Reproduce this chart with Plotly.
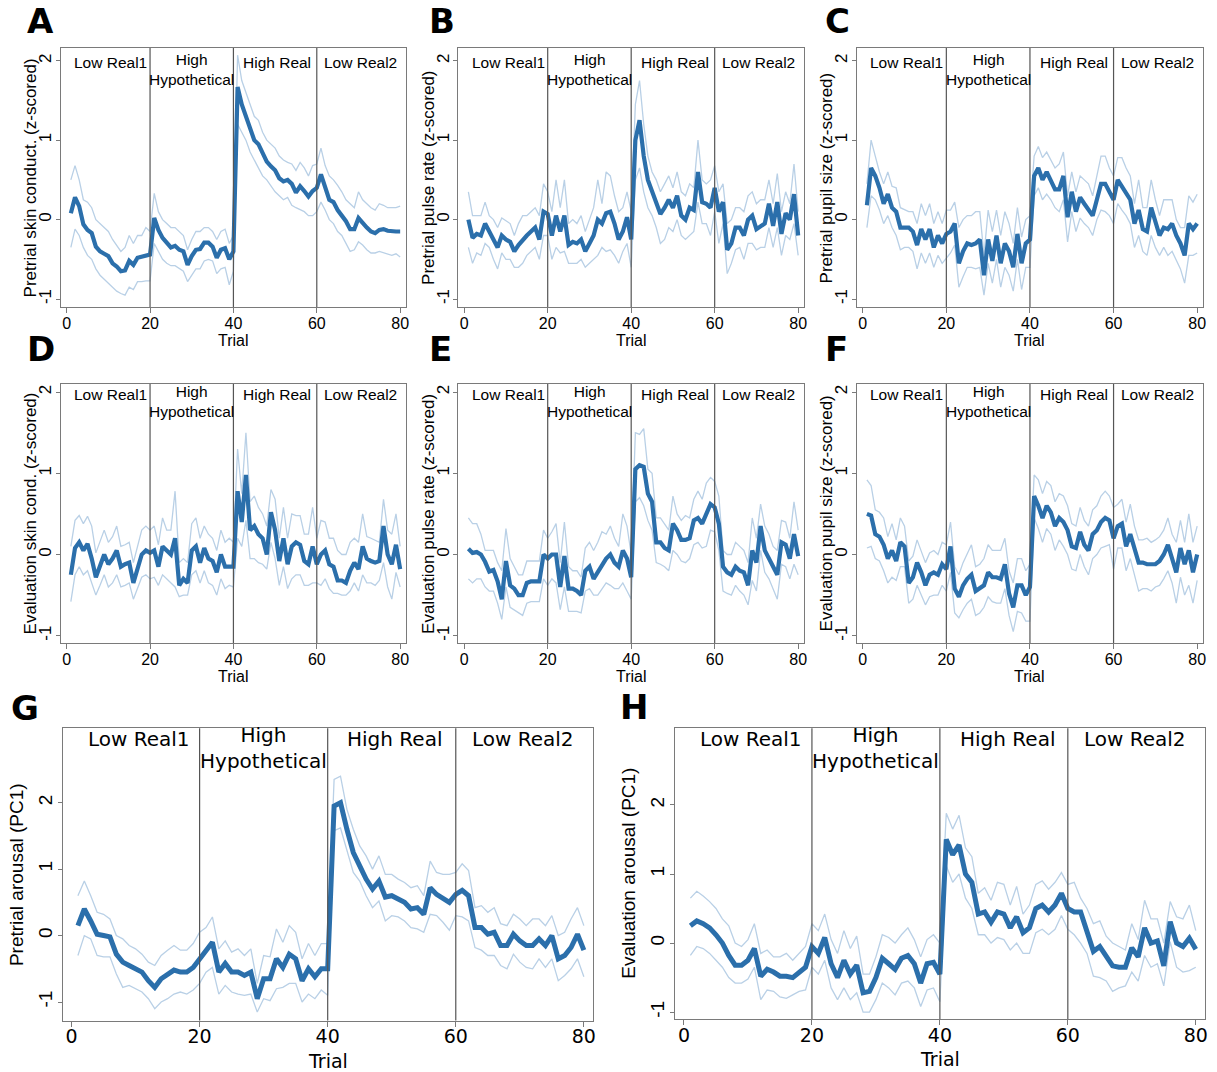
import plotly.graph_objects as go

W, H = 1217, 1072
TRIALS = list(range(1, 81))
X_TICKS = [0, 20, 40, 60, 80]
Y_TICKS = [-1, 0, 1, 2]
BLOCK_EDGES = [20, 40, 60]
BLOCK_LABELS = ["Low Real1", "High<br>Hypothetical", "High Real", "Low Real2"]
BLOCK_CENTERS = [10.5, 30, 50.5, 70.5]

MEAN_A = [0.08, 0.28, 0.17, -0.06, -0.13, -0.17, -0.34, -0.40, -0.43, -0.46, -0.55, -0.59, -0.65, -0.64, -0.52, -0.57, -0.48, -0.47, -0.45, -0.44,
          0.02, -0.13, -0.23, -0.30, -0.35, -0.33, -0.38, -0.40, -0.57, -0.46, -0.38, -0.37, -0.29, -0.29, -0.34, -0.48, -0.38, -0.36, -0.50, -0.40,
          1.67, 1.45, 1.30, 1.12, 1.00, 0.95, 0.85, 0.73, 0.67, 0.62, 0.52, 0.48, 0.50, 0.45, 0.34, 0.42, 0.36, 0.29, 0.36, 0.40,
          0.57, 0.42, 0.25, 0.22, 0.12, 0.05, -0.02, -0.12, -0.12, 0.02, -0.05, -0.10, -0.15, -0.17, -0.13, -0.12, -0.14, -0.15, -0.15, -0.15]
UP_A = [0.50, 0.68, 0.50, 0.25, 0.22, 0.15, 0.00, -0.05, -0.10, -0.15, -0.25, -0.32, -0.40, -0.35, -0.20, -0.30, -0.20, -0.20, -0.10, -0.15,
        0.33, 0.10, 0.00, -0.05, -0.10, -0.10, -0.15, -0.20, -0.38, -0.25, -0.15, -0.15, -0.10, -0.10, -0.15, -0.25, -0.15, -0.12, -0.30, -0.20,
        2.07, 1.75, 1.60, 1.45, 1.30, 1.25, 1.10, 1.00, 0.95, 0.90, 0.80, 0.75, 0.72, 0.70, 0.62, 0.72, 0.65, 0.55, 0.68, 0.70,
        0.90, 0.68, 0.55, 0.50, 0.43, 0.35, 0.25, 0.20, 0.15, 0.35, 0.25, 0.20, 0.15, 0.12, 0.20, 0.18, 0.15, 0.15, 0.15, 0.17]
LO_A = [-0.35, -0.12, -0.20, -0.35, -0.45, -0.50, -0.62, -0.70, -0.75, -0.80, -0.85, -0.90, -0.93, -0.95, -0.85, -0.88, -0.78, -0.78, -0.77, -0.77,
        -0.30, -0.40, -0.50, -0.55, -0.58, -0.58, -0.62, -0.65, -0.78, -0.70, -0.62, -0.62, -0.52, -0.50, -0.52, -0.68, -0.62, -0.60, -0.82, -0.65,
        1.20, 1.10, 1.00, 0.85, 0.75, 0.65, 0.55, 0.50, 0.42, 0.35, 0.30, 0.25, 0.28, 0.18, 0.15, 0.12, 0.10, 0.05, 0.05, 0.10,
        0.22, 0.12, 0.00, -0.05, -0.15, -0.20, -0.30, -0.40, -0.38, -0.28, -0.32, -0.38, -0.42, -0.42, -0.40, -0.42, -0.43, -0.45, -0.43, -0.47]

MEAN_B = [0.00, -0.23, -0.18, -0.20, -0.05, -0.15, -0.25, -0.35, -0.20, -0.25, -0.28, -0.40, -0.32, -0.25, -0.20, -0.15, -0.10, -0.25, 0.10, 0.07,
          -0.20, 0.05, -0.15, 0.05, -0.32, -0.28, -0.30, -0.25, -0.40, -0.30, -0.20, 0.00, -0.05, 0.08, 0.10, -0.05, -0.25, -0.15, 0.03, -0.25,
          1.00, 1.25, 0.80, 0.50, 0.35, 0.20, 0.07, 0.15, 0.25, 0.15, 0.30, 0.05, 0.00, 0.15, 0.12, 0.60, 0.22, 0.20, 0.15, 0.40,
          0.10, 0.22, -0.38, -0.30, -0.10, -0.10, -0.20, 0.00, 0.05, -0.12, -0.08, -0.05, 0.20, -0.08, 0.22, -0.18, 0.08, 0.00, 0.32, -0.20]
UP_B = [0.35, 0.05, 0.05, 0.05, 0.22, 0.05, 0.00, -0.10, 0.02, -0.02, -0.05, -0.20, -0.05, 0.05, 0.05, 0.10, 0.15, 0.05, 0.45, 0.35,
        0.10, 0.50, 0.15, 0.50, -0.05, 0.00, -0.05, 0.05, -0.15, 0.00, 0.15, 0.50, 0.20, 0.60, 0.55, 0.30, 0.10, 0.15, 0.35, 0.10,
        1.45, 1.75, 1.20, 0.80, 0.60, 0.50, 0.35, 0.45, 0.55, 0.40, 0.60, 0.35, 0.30, 0.45, 0.40, 1.00, 0.50, 0.45, 0.50, 0.68,
        0.35, 0.45, -0.05, 0.00, 0.15, 0.15, 0.10, 0.30, 0.35, 0.20, 0.25, 0.25, 0.50, 0.20, 0.58, 0.10, 0.35, 0.20, 0.70, 0.10]
LO_B = [-0.35, -0.55, -0.42, -0.45, -0.30, -0.35, -0.50, -0.62, -0.42, -0.50, -0.50, -0.60, -0.60, -0.55, -0.45, -0.40, -0.35, -0.50, -0.20, -0.20,
        -0.50, -0.35, -0.42, -0.40, -0.55, -0.55, -0.55, -0.50, -0.60, -0.55, -0.50, -0.45, -0.35, -0.40, -0.38, -0.45, -0.55, -0.40, -0.30, -0.60,
        0.50, 0.65, 0.35, 0.15, 0.05, -0.10, -0.30, -0.25, -0.10, -0.15, 0.00, -0.20, -0.25, -0.20, -0.15, 0.22, -0.05, -0.05, -0.20, 0.10,
        -0.30, -0.05, -0.68, -0.55, -0.38, -0.35, -0.50, -0.30, -0.30, -0.38, -0.35, -0.35, -0.10, -0.35, -0.10, -0.45, -0.20, -0.25, -0.05, -0.45]

MEAN_C = [0.18, 0.65, 0.55, 0.40, 0.20, 0.32, 0.15, 0.10, -0.10, -0.10, -0.10, -0.15, -0.32, -0.12, -0.25, -0.12, -0.35, -0.20, -0.30, -0.18,
          -0.15, -0.05, -0.55, -0.40, -0.30, -0.32, -0.30, -0.25, -0.70, -0.25, -0.52, -0.20, -0.55, -0.30, -0.40, -0.60, -0.18, -0.55, -0.30, -0.25,
          0.55, 0.65, 0.50, 0.60, 0.50, 0.38, 0.38, 0.55, 0.03, 0.35, 0.10, 0.28, 0.20, 0.12, 0.05, 0.25, 0.45, 0.45, 0.35, 0.25,
          0.50, 0.42, 0.35, 0.25, -0.05, 0.12, -0.12, -0.15, 0.15, -0.05, -0.20, -0.10, -0.12, -0.05, -0.20, -0.30, -0.45, -0.05, -0.12, -0.05]
UP_C = [0.45, 1.00, 0.80, 0.60, 0.45, 0.60, 0.42, 0.40, 0.15, 0.12, 0.10, 0.10, -0.05, 0.20, 0.05, 0.20, -0.05, 0.10, -0.05, 0.12,
        0.12, 0.22, -0.10, 0.00, 0.05, 0.05, 0.10, 0.10, -0.45, 0.12, -0.15, 0.12, -0.20, 0.10, -0.05, -0.30, 0.15, -0.22, 0.00, 0.05,
        0.80, 0.92, 0.78, 0.85, 0.75, 0.65, 0.70, 0.85, 0.30, 0.60, 0.35, 0.55, 0.50, 0.45, 0.30, 0.55, 0.80, 0.80, 0.65, 0.55,
        0.78, 0.78, 0.65, 0.55, 0.20, 0.50, 0.15, 0.15, 0.50, 0.25, 0.05, 0.25, 0.25, 0.25, 0.00, -0.10, -0.10, 0.30, 0.22, 0.32]
LO_C = [-0.10, 0.30, 0.25, 0.12, -0.05, 0.05, -0.10, -0.20, -0.38, -0.35, -0.35, -0.40, -0.62, -0.42, -0.55, -0.42, -0.60, -0.45, -0.55, -0.48,
        -0.42, -0.32, -0.85, -0.72, -0.60, -0.60, -0.62, -0.60, -0.95, -0.55, -0.80, -0.50, -0.85, -0.60, -0.70, -0.90, -0.50, -0.88, -0.60, -0.60,
        0.30, 0.40, 0.25, 0.32, 0.25, 0.15, 0.10, 0.25, -0.28, 0.10, -0.15, 0.02, -0.05, -0.10, -0.20, 0.00, 0.12, 0.10, 0.05, -0.05,
        0.20, 0.12, 0.05, -0.05, -0.35, -0.20, -0.40, -0.45, -0.20, -0.35, -0.45, -0.35, -0.45, -0.40, -0.50, -0.62, -0.80, -0.45, -0.45, -0.42]

MEAN_D = [-0.25, 0.08, 0.15, 0.05, 0.13, -0.05, -0.28, -0.12, 0.00, -0.12, -0.05, 0.05, -0.15, -0.12, -0.10, -0.35, -0.15, 0.00, 0.05, 0.02,
          0.05, -0.15, 0.10, 0.05, 0.00, 0.20, -0.38, -0.30, -0.35, 0.05, 0.10, -0.10, 0.08, -0.05, -0.08, -0.22, 0.00, -0.15, -0.15, -0.15,
          0.78, 0.40, 0.98, 0.30, 0.35, 0.25, 0.20, 0.00, 0.52, 0.30, -0.08, 0.20, -0.12, 0.10, 0.15, 0.12, -0.08, -0.12, 0.10, -0.12,
          0.00, 0.05, -0.12, -0.15, -0.32, -0.32, -0.35, -0.20, -0.10, -0.18, 0.10, -0.05, -0.08, -0.10, -0.08, 0.35, 0.00, -0.12, 0.12, -0.18]
UP_D = [0.10, 0.42, 0.48, 0.38, 0.47, 0.35, 0.02, 0.15, 0.30, 0.15, 0.22, 0.35, 0.10, 0.12, 0.15, -0.10, 0.10, 0.30, 0.35, 0.30,
        0.35, 0.12, 0.45, 0.30, 0.30, 0.78, -0.10, -0.05, -0.10, 0.38, 0.45, 0.20, 0.35, 0.25, 0.20, 0.05, 0.30, 0.15, 0.20, 0.15,
        1.30, 0.75, 1.50, 0.65, 0.72, 0.58, 0.50, 0.35, 0.80, 0.68, 0.20, 0.58, 0.20, 0.50, 0.48, 0.48, 0.25, 0.25, 0.58, 0.20,
        0.42, 0.40, 0.20, 0.20, 0.05, 0.00, 0.00, 0.15, 0.20, 0.15, 0.50, 0.22, 0.20, 0.18, 0.15, 0.68, 0.30, 0.25, 0.50, 0.10]
LO_D = [-0.58, -0.25, -0.15, -0.25, -0.20, -0.35, -0.50, -0.38, -0.25, -0.40, -0.35, -0.25, -0.40, -0.38, -0.35, -0.55, -0.42, -0.28, -0.25, -0.30,
        -0.28, -0.38, -0.25, -0.30, -0.35, -0.40, -0.52, -0.50, -0.50, -0.25, -0.20, -0.35, -0.20, -0.35, -0.38, -0.50, -0.30, -0.42, -0.38, -0.40,
        0.20, 0.10, 0.42, -0.05, -0.05, -0.10, -0.12, -0.18, 0.15, -0.05, -0.38, -0.15, -0.42, -0.30, -0.25, -0.25, -0.38, -0.38, -0.35, -0.35,
        -0.38, -0.30, -0.42, -0.48, -0.48, -0.50, -0.50, -0.45, -0.35, -0.45, -0.25, -0.35, -0.35, -0.38, -0.32, -0.10, -0.40, -0.55, -0.22, -0.40]

MEAN_E = [0.07, 0.02, 0.03, 0.00, -0.09, -0.21, -0.19, -0.33, -0.55, -0.08, -0.38, -0.42, -0.50, -0.50, -0.35, -0.33, -0.33, -0.33, 0.00, -0.05,
          0.00, 0.00, -0.40, -0.02, -0.42, -0.42, -0.45, -0.50, -0.20, -0.15, -0.30, -0.22, -0.12, -0.05, 0.00, -0.10, -0.15, 0.05, -0.05, -0.28,
          1.05, 1.10, 1.08, 0.75, 0.65, 0.15, 0.15, 0.08, 0.05, 0.38, 0.30, 0.18, 0.18, 0.20, 0.42, 0.45, 0.38, 0.50, 0.62, 0.58,
          0.38, -0.15, -0.22, -0.25, -0.15, -0.20, -0.22, -0.38, 0.05, -0.10, 0.35, 0.05, -0.05, -0.15, -0.25, 0.15, 0.12, -0.05, 0.25, -0.02]
UP_E = [0.45, 0.38, 0.38, 0.25, 0.05, 0.05, 0.05, -0.10, -0.20, 0.32, -0.05, -0.15, -0.25, -0.25, -0.08, -0.08, -0.08, -0.08, 0.30, 0.20,
        0.28, 0.38, -0.10, 0.40, -0.15, -0.20, -0.20, -0.28, 0.08, 0.15, 0.05, 0.15, 0.28, 0.25, 0.35, 0.20, 0.10, 0.50, 0.35, 0.00,
        1.50, 1.48, 1.55, 1.05, 1.00, 0.45, 0.45, 0.38, 0.30, 0.72, 0.50, 0.42, 0.48, 0.45, 0.68, 0.78, 0.68, 0.88, 0.95, 0.90,
        0.72, 0.05, 0.00, 0.00, 0.15, 0.10, 0.05, -0.10, 0.45, 0.20, 0.62, 0.35, 0.25, 0.10, 0.05, 0.42, 0.40, 0.20, 0.65, 0.30]
LO_E = [-0.30, -0.35, -0.30, -0.30, -0.40, -0.45, -0.45, -0.60, -0.80, -0.40, -0.65, -0.68, -0.72, -0.75, -0.60, -0.58, -0.58, -0.58, -0.30, -0.38,
        -0.30, -0.35, -0.68, -0.40, -0.70, -0.70, -0.70, -0.72, -0.45, -0.42, -0.50, -0.50, -0.42, -0.35, -0.38, -0.42, -0.42, -0.35, -0.45, -0.55,
        0.65, 0.70, 0.60, 0.42, 0.30, -0.10, -0.12, -0.15, -0.20, 0.05, 0.00, -0.08, -0.10, -0.05, 0.12, 0.15, 0.08, 0.10, 0.30, 0.28,
        0.05, -0.45, -0.48, -0.50, -0.38, -0.45, -0.50, -0.62, -0.32, -0.45, 0.05, -0.22, -0.30, -0.42, -0.55, -0.12, -0.15, -0.30, -0.12, -0.25]

MEAN_F = [0.50, 0.48, 0.25, 0.22, 0.12, -0.05, 0.05, -0.08, 0.15, 0.10, -0.35, -0.28, -0.10, -0.22, -0.38, -0.25, -0.22, -0.25, -0.12, -0.18,
          0.10, -0.42, -0.52, -0.38, -0.30, -0.25, -0.45, -0.42, -0.38, -0.22, -0.28, -0.28, -0.30, -0.12, -0.48, -0.65, -0.38, -0.38, -0.50, -0.40,
          0.72, 0.60, 0.45, 0.60, 0.52, 0.35, 0.45, 0.40, 0.30, 0.10, 0.08, 0.28, 0.12, 0.05, 0.25, 0.30, 0.40, 0.45, 0.42, 0.20,
          0.35, 0.38, 0.10, 0.25, 0.05, -0.10, -0.10, -0.12, -0.12, -0.12, -0.08, 0.00, 0.12, -0.05, -0.22, 0.08, -0.12, 0.05, -0.22, 0.00]
UP_F = [0.92, 0.85, 0.55, 0.52, 0.45, 0.22, 0.38, 0.18, 0.45, 0.35, -0.08, -0.02, 0.18, 0.05, -0.10, 0.02, 0.05, 0.00, 0.15, 0.12,
        0.40, -0.15, -0.25, -0.10, 0.00, 0.12, -0.15, -0.12, -0.05, 0.12, 0.05, 0.05, 0.05, 0.20, -0.20, -0.35, -0.05, -0.05, -0.20, -0.12,
        0.98, 0.92, 0.75, 0.90, 0.85, 0.65, 0.75, 0.72, 0.60, 0.38, 0.35, 0.58, 0.42, 0.35, 0.55, 0.60, 0.72, 0.78, 0.72, 0.58,
        0.62, 0.68, 0.40, 0.62, 0.35, 0.18, 0.18, 0.20, 0.15, 0.18, 0.22, 0.30, 0.45, 0.25, 0.15, 0.42, 0.15, 0.50, 0.15, 0.35]
LO_F = [0.08, 0.10, -0.05, -0.08, -0.20, -0.35, -0.28, -0.32, -0.15, -0.15, -0.60, -0.55, -0.38, -0.50, -0.62, -0.52, -0.50, -0.50, -0.38, -0.45,
        -0.22, -0.72, -0.78, -0.68, -0.60, -0.55, -0.75, -0.72, -0.65, -0.52, -0.58, -0.60, -0.60, -0.42, -0.75, -0.95, -0.70, -0.72, -0.82, -0.82,
        0.45, 0.32, 0.15, 0.32, 0.25, 0.05, 0.18, 0.10, 0.00, -0.18, -0.20, 0.00, -0.15, -0.25, -0.05, 0.00, 0.08, 0.10, 0.12, -0.18,
        0.08, 0.08, -0.20, -0.05, -0.25, -0.45, -0.42, -0.42, -0.45, -0.40, -0.38, -0.30, -0.20, -0.35, -0.60, -0.28, -0.50, -0.38, -0.60, -0.32]

MEAN_G = [0.15, 0.40, 0.22, 0.02, 0.00, -0.02, -0.28, -0.40, -0.45, -0.50, -0.55, -0.68, -0.78, -0.65, -0.58, -0.52, -0.55, -0.55, -0.48, -0.35,
          -0.20, -0.10, -0.55, -0.42, -0.55, -0.55, -0.60, -0.55, -0.95, -0.65, -0.65, -0.35, -0.48, -0.28, -0.35, -0.68, -0.50, -0.62, -0.50, -0.50,
          1.95, 2.00, 1.60, 1.25, 1.05, 0.85, 0.70, 0.82, 0.58, 0.60, 0.55, 0.50, 0.40, 0.42, 0.32, 0.72, 0.62, 0.55, 0.50, 0.62,
          0.68, 0.60, 0.12, 0.12, 0.02, 0.05, -0.15, -0.15, 0.02, -0.08, -0.15, -0.15, -0.05, -0.15, 0.00, -0.35, -0.30, -0.18, 0.02, -0.22]
UP_G = [0.60, 0.82, 0.60, 0.35, 0.32, 0.25, 0.00, -0.05, -0.15, -0.20, -0.28, -0.40, -0.45, -0.30, -0.22, -0.15, -0.22, -0.22, -0.12, 0.05,
        0.12, 0.28, -0.20, -0.08, -0.25, -0.20, -0.30, -0.20, -0.72, -0.30, -0.32, 0.10, -0.10, 0.15, 0.05, -0.35, -0.12, -0.30, -0.12, -0.12,
        2.35, 2.40, 1.90, 1.60, 1.35, 1.20, 1.00, 1.20, 0.92, 0.92, 0.85, 0.80, 0.72, 0.75, 0.60, 1.12, 0.95, 0.92, 0.92, 0.95,
        1.08, 0.98, 0.42, 0.45, 0.35, 0.42, 0.18, 0.15, 0.32, 0.25, 0.15, 0.25, 0.25, 0.15, 0.30, 0.00, 0.05, 0.25, 0.42, 0.15]
LO_G = [-0.30, 0.00, -0.05, -0.30, -0.32, -0.32, -0.58, -0.78, -0.75, -0.80, -0.85, -0.95, -1.10, -1.00, -0.95, -0.88, -0.85, -0.88, -0.82, -0.72,
        -0.55, -0.48, -0.88, -0.75, -0.85, -0.88, -0.90, -0.88, -1.15, -0.95, -0.98, -0.80, -0.78, -0.72, -0.72, -1.00, -0.88, -0.95, -0.82, -0.90,
        1.58, 1.62, 1.30, 0.95, 0.82, 0.60, 0.42, 0.52, 0.22, 0.30, 0.28, 0.22, 0.12, 0.10, 0.05, 0.32, 0.30, 0.20, 0.08, 0.30,
        0.28, 0.22, -0.18, -0.22, -0.30, -0.30, -0.45, -0.50, -0.28, -0.40, -0.48, -0.50, -0.35, -0.48, -0.35, -0.68, -0.60, -0.50, -0.35, -0.62]

MEAN_H = [0.25, 0.32, 0.28, 0.22, 0.12, 0.00, -0.18, -0.32, -0.32, -0.25, -0.08, -0.48, -0.38, -0.42, -0.48, -0.48, -0.50, -0.42, -0.35, -0.05,
          -0.15, 0.08, -0.30, -0.50, -0.25, -0.45, -0.32, -0.72, -0.70, -0.50, -0.22, -0.30, -0.38, -0.22, -0.18, -0.30, -0.58, -0.30, -0.28, -0.45,
          1.50, 1.28, 1.42, 1.00, 0.88, 0.42, 0.45, 0.30, 0.45, 0.42, 0.22, 0.38, 0.15, 0.22, 0.50, 0.55, 0.45, 0.55, 0.72, 0.50,
          0.45, 0.45, 0.15, -0.12, -0.05, -0.20, -0.33, -0.35, -0.35, -0.07, -0.20, 0.22, 0.00, 0.03, -0.33, 0.31, 0.00, -0.05, 0.07, -0.09]
UP_H = [0.65, 0.75, 0.68, 0.60, 0.50, 0.35, 0.25, 0.00, -0.05, 0.05, 0.28, -0.15, -0.10, -0.20, -0.20, -0.15, -0.25, -0.15, -0.05, 0.28,
        0.18, 0.42, 0.05, -0.15, 0.18, -0.08, 0.10, -0.45, -0.45, -0.20, 0.12, 0.08, 0.00, 0.12, 0.22, 0.05, -0.20, 0.05, 0.12, 0.00,
        1.88, 1.65, 1.85, 1.38, 1.25, 0.72, 0.80, 0.62, 0.88, 0.85, 0.55, 0.82, 0.42, 0.55, 0.85, 0.90, 0.78, 0.88, 1.02, 0.85,
        0.88, 0.65, 0.50, 0.28, 0.32, 0.10, 0.00, -0.05, -0.10, 0.28, 0.05, 0.62, 0.35, 0.35, 0.00, 0.60, 0.38, 0.35, 0.55, 0.18]
LO_H = [-0.18, -0.05, -0.08, -0.15, -0.25, -0.35, -0.50, -0.58, -0.58, -0.52, -0.35, -0.82, -0.68, -0.70, -0.78, -0.80, -0.75, -0.70, -0.68, -0.35,
        -0.45, -0.25, -0.65, -0.82, -0.65, -0.82, -0.72, -1.00, -1.00, -0.82, -0.58, -0.65, -0.75, -0.58, -0.55, -0.65, -0.92, -0.68, -0.65, -0.85,
        1.12, 0.88, 1.00, 0.65, 0.50, 0.12, 0.12, 0.00, 0.08, 0.05, -0.10, 0.00, -0.15, -0.15, 0.15, 0.20, 0.12, 0.20, 0.40, 0.20,
        0.12, 0.00, -0.15, -0.48, -0.50, -0.55, -0.70, -0.65, -0.62, -0.42, -0.55, -0.18, -0.35, -0.30, -0.62, 0.02, -0.35, -0.42, -0.40, -0.35]

Y_TITLES = ["Pretrial skin conduct. (z-scored)", "Pretrial pulse rate (z-scored)", "Pretrial pupil size (z-scored)",
            "Evaluation skin cond. (z-scored)", "Evaluation pulse rate (z-scored)", "Evaluation pupil size (z-scored)",
            "Pretrial arousal (PC1)", "Evaluation arousal (PC1)"]
LETTERS = ["A", "B", "C", "D", "E", "F", "G", "H"]
X_TITLE = "Trial"

MEAN_COLOR = "#2b6fab"
CI_COLOR = "#b9d0e6"
FRAME = "#7a7a7a"
SEP = "#555555"

REG = "Liberation Sans, Arial"
WIDE = "DejaVu Sans, Verdana"

# layout geometry in pixels: (x0, x1, y0(top), y1(bottom))
small_rows = [(48, 307), (384, 643)]
small_cols = [(61, 407), (459.5, 806), (859, 1206)]
boxes = []
for (t, b) in small_rows:
    for (l, r) in small_cols:
        boxes.append((l, r, t, b))
boxes.append((62.7, 594.3, 728.3, 1020.6))
boxes.append((676.7, 1207.7, 728.3, 1019))

YRANGES = [[-1.10, 2.16]] * 3 + [[-1.09, 2.10]] * 3 + [[-1.28, 3.12], [-1.10, 3.11]]
XRANGE = [-1.4, 81.4]

panels = [(MEAN_A, UP_A, LO_A), (MEAN_B, UP_B, LO_B), (MEAN_C, UP_C, LO_C),
          (MEAN_D, UP_D, LO_D), (MEAN_E, UP_E, LO_E), (MEAN_F, UP_F, LO_F),
          (MEAN_G, UP_G, LO_G), (MEAN_H, UP_H, LO_H)]

fig = go.Figure()
layout = dict(width=W, height=H, margin=dict(l=0, r=0, t=0, b=0, pad=0),
              paper_bgcolor="white", plot_bgcolor="white", showlegend=False)
annotations = []
shapes = []

for i, (mean, up, lo) in enumerate(panels):
    n = i + 1
    big = i >= 6
    sfx = "" if n == 1 else str(n)
    xa, ya = "x" + sfx, "y" + sfx
    l, r, t, b = boxes[i]
    hfont = WIDE if big else REG
    hsize = 20 if big else 15.5
    tsize = 19 if big else 16
    vsize = 19 if big else 17
    for ci in (up, lo):
        fig.add_trace(go.Scatter(x=TRIALS, y=ci, xaxis=xa, yaxis=ya, mode="lines",
                                 line=dict(color=CI_COLOR, width=1.3), hoverinfo="skip"))
    fig.add_trace(go.Scatter(x=TRIALS, y=mean, xaxis=xa, yaxis=ya, mode="lines",
                             line=dict(color=MEAN_COLOR, width=5 if big else 4.2)))
    layout["xaxis" + sfx] = dict(domain=[l / W, r / W], range=XRANGE, anchor=ya,
                                 tickvals=X_TICKS, ticks="outside", ticklen=5, tickcolor=FRAME,
                                 ticklabelstandoff=-6 if big else -3,
                                 showline=True, linecolor=FRAME, linewidth=1, mirror=True,
                                 showgrid=False, zeroline=False,
                                 tickfont=dict(family=hfont, size=tsize, color="black"))
    layout["yaxis" + sfx] = dict(domain=[1 - b / H, 1 - t / H], range=YRANGES[i], anchor=xa,
                                 tickvals=Y_TICKS, ticktext=["-1", "0", "1", "2"], tickangle=-90,
                                 ticks="outside", ticklen=4, tickcolor=FRAME,
                                 ticklabelstandoff=-2,
                                 showline=True, linecolor=FRAME, linewidth=1, mirror=True,
                                 showgrid=False, zeroline=False,
                                 tickfont=dict(family=REG, size=vsize, color="black"))
    for e in BLOCK_EDGES:
        shapes.append(dict(type="line", xref=xa, yref=ya + " domain", x0=e, x1=e, y0=0, y1=1,
                           line=dict(color=SEP, width=1.2)))
    y_one = 2.96 if big else 1.975
    y_two = 2.82 if big else 1.885
    for c, txt in zip(BLOCK_CENTERS, BLOCK_LABELS):
        annotations.append(dict(x=c, y=y_two if "<br>" in txt else y_one, xref=xa, yref=ya,
                                text=txt, showarrow=False,
                                xanchor="center", yanchor="middle",
                                font=dict(family=hfont, size=hsize, color="black")))
    # axis titles
    xt_y = (b + 40) if big else (b + 33)
    annotations.append(dict(x=((l + r) / 2) / W, y=1 - xt_y / H, xref="paper", yref="paper",
                            text=X_TITLE, showarrow=False, xanchor="center", yanchor="middle",
                            font=dict(family=hfont, size=tsize, color="black")))
    yt_x = (l - 46) if big else (l - 30)
    annotations.append(dict(x=yt_x / W, y=1 - ((t + b) / 2) / H, xref="paper", yref="paper",
                            text=Y_TITLES[i], textangle=-90, showarrow=False,
                            xanchor="center", yanchor="middle",
                            font=dict(family=REG, size=vsize, color="black")))

# panel letters (pixel positions of glyph left / vertical centre)
LETTER_POS = [(25, 21), (428, 21), (825, 21), (25, 349), (428, 349), (825, 349), (9, 708), (620, 707)]
for (px, py), let in zip(LETTER_POS, LETTERS):
    annotations.append(dict(x=px / W, y=1 - py / H, xref="paper", yref="paper", text="<b>" + let + "</b>",
                            showarrow=False, xanchor="left", yanchor="middle",
                            font=dict(family="DejaVu Sans", size=34, color="black")))

layout["annotations"] = annotations
layout["shapes"] = shapes
fig.update_layout(**layout)
fig.write_html("out.html")
